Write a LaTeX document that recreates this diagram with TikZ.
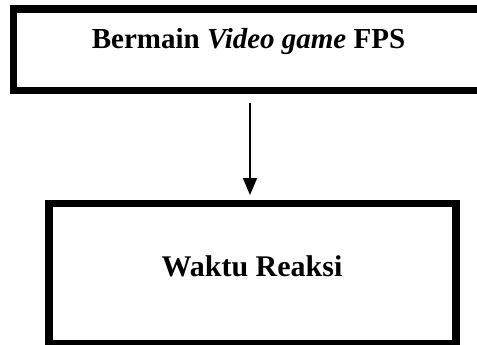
\documentclass[tikz,border=0pt]{standalone}
\usepackage{fontspec}
\setmainfont{Liberation Serif}
\usetikzlibrary{arrows.meta}
\begin{document}
\begin{tikzpicture}[x=1pt,y=-1pt,
  boxframe/.style={draw=black,line width=7.5pt,rectangle,inner sep=0pt},
  boxtext/.style={anchor=base,inner sep=0pt,font=\bfseries},
  arr/.style={line width=1.5pt,-{Triangle[width=14pt,length=17pt]}}]
\useasboundingbox (0,0) rectangle (477,345);
\clip (0,0) rectangle (477,345);
\node[boxframe,minimum width=473pt,minimum height=81.6pt] (top) at (250,49.6) {};
\node[boxframe,minimum width=407pt,minimum height=140.4pt] (bot) at (252.3,273.8) {};
\node[boxtext,font=\fontsize{29}{33}\selectfont\bfseries] (t1) at (248.5,49) {Bermain \textit{Video game} FPS};
\node[boxtext,font=\fontsize{30}{34}\selectfont\bfseries] (t2) at (252,276.7) {Waktu Reaksi};
\draw[arr,shorten <=8.7pt,shorten >=4.8pt] (top.south) -- (top.south |- bot.north);
\end{tikzpicture}
\end{document}
